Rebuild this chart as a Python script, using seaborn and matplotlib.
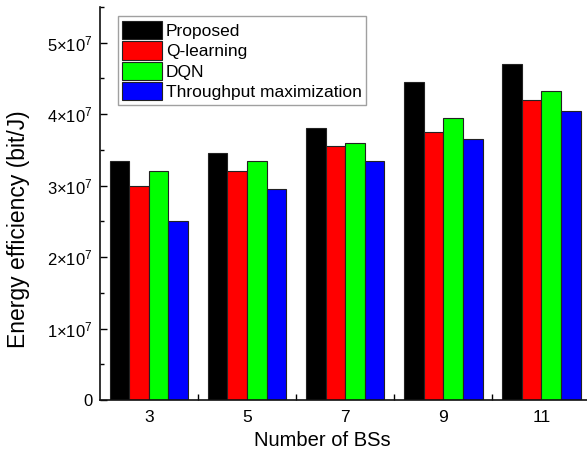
import matplotlib
matplotlib.use("Agg")
import matplotlib.pyplot as plt
import matplotlib.ticker as mticker
import seaborn as sns
import pandas as pd

bs_numbers = ["3", "5", "7", "9", "11"]
proposed = [3.35e7, 3.45e7, 3.80e7, 4.45e7, 4.70e7]
q_learning = [3.00e7, 3.20e7, 3.55e7, 3.75e7, 4.20e7]
dqn = [3.20e7, 3.35e7, 3.60e7, 3.95e7, 4.32e7]
throughput_max = [2.50e7, 2.95e7, 3.35e7, 3.65e7, 4.05e7]
series_names = ["Proposed", "Q-learning", "DQN", "Throughput maximization"]
colors = ["#000000", "#ff0000", "#00ff00", "#0000ff"]

sns.set_style("ticks")
plt.rcParams['font.family'] = ['Liberation Sans', 'DejaVu Sans']
plt.rcParams['mathtext.fontset'] = 'custom'
plt.rcParams['mathtext.rm'] = 'Liberation Sans'
plt.rcParams['mathtext.it'] = 'Liberation Sans:italic'
plt.rcParams['mathtext.bf'] = 'Liberation Sans:bold'
plt.rcParams['text.color'] = 'black'
plt.rcParams['axes.labelcolor'] = 'black'
plt.rcParams['xtick.color'] = 'black'
plt.rcParams['ytick.color'] = 'black'

rows = []
for name, vals in zip(series_names, [proposed, q_learning, dqn, throughput_max]):
    for bs, v in zip(bs_numbers, vals):
        rows.append({"BS": bs, "Method": name, "EE": v})
df = pd.DataFrame(rows)

fig = plt.figure(figsize=(5.87, 4.57), dpi=100)
ax = fig.add_axes([0.170, 0.1247, 0.836, 0.860])
sns.barplot(data=df, x="BS", y="EE", hue="Method", order=bs_numbers,
            hue_order=series_names, palette=colors, width=0.8,
            edgecolor="#222222", linewidth=0.8, saturation=1, ax=ax)

ax.set_xlim(-0.5, 4.5)
ax.set_ylim(0, 5.5e7)
ax.set_yticks([0, 1e7, 2e7, 3e7, 4e7, 5e7])

def fmt(v, pos):
    if v == 0:
        return "0"
    m = int(round(v / 1e7))
    return r"$%d{\times}10^{7}$" % m
ax.yaxis.set_major_formatter(mticker.FuncFormatter(fmt))
ax.yaxis.set_minor_locator(mticker.MultipleLocator(0.5e7))
ax.xaxis.set_minor_locator(mticker.FixedLocator([0.5, 1.5, 2.5, 3.5]))

ax.tick_params(axis='y', which='major', direction='in', length=5, width=1, labelsize=12, pad=5,
               colors='black')
ax.tick_params(axis='y', which='minor', direction='in', length=3, width=1, colors='black')
ax.tick_params(axis='x', which='major', length=0, labelsize=12.5, pad=7, colors='black')
ax.tick_params(axis='x', which='minor', direction='in', length=4, width=1, colors='black')

for s in ["top", "right"]:
    ax.spines[s].set_visible(False)
for s in ["left", "bottom"]:
    ax.spines[s].set_linewidth(1.2)
    ax.spines[s].set_color("#111111")

ax.set_xlabel("Number of BSs", fontsize=14.5, color='black')
ax.xaxis.set_label_coords(0.453, -0.08)
ax.set_ylabel("Energy efficiency (bit/J)", fontsize=16.5, color='black')
ax.yaxis.set_label_coords(-0.143, 0.435)

leg = ax.legend(loc="upper left", bbox_to_anchor=(0.03, 0.985), fontsize=12.5,
                frameon=True, fancybox=False, edgecolor="#888888",
                handlelength=2.3, handleheight=1.25, labelspacing=0.12,
                handletextpad=0.2, borderpad=0.25, borderaxespad=0.2)
leg.get_frame().set_linewidth(1.0)
for t in leg.get_texts():
    t.set_color('black')

fig.savefig("out.png", dpi=100)
